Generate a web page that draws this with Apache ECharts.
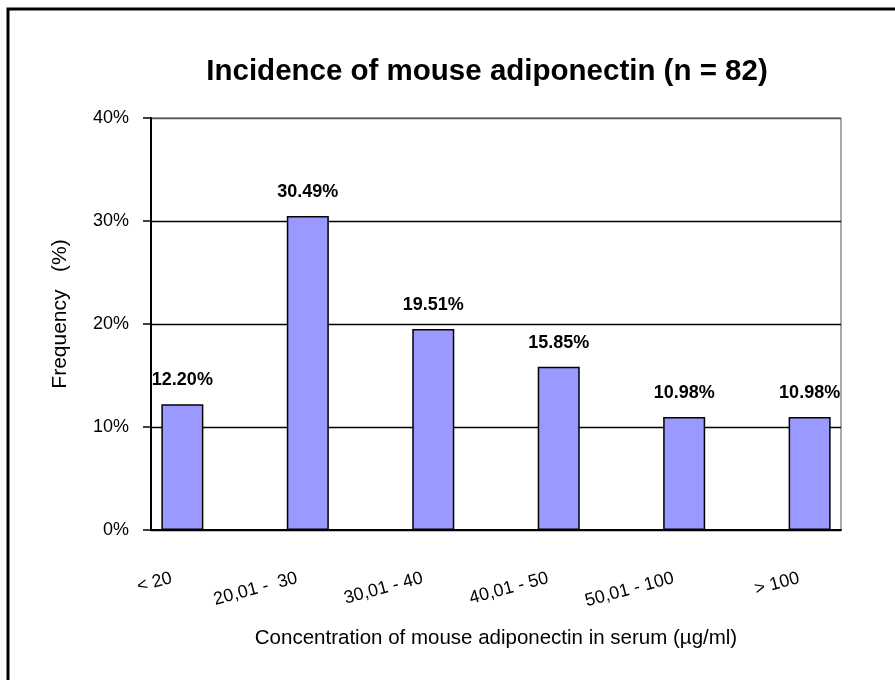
<!DOCTYPE html>
<html>
<head>
<meta charset="utf-8">
<script src="https://cdn.jsdelivr.net/npm/echarts@6/dist/echarts.min.js"></script>
<style>
  html, body { margin: 0; padding: 0; background: #fff; }
  #chart { width: 895px; height: 680px; }
</style>
</head>
<body>
<div id="chart"></div>
<script>
// concentration ranges (ug/ml) and their frequency (%)
const rangeLabels = ['< 20', '20,01 -  30', '30,01 - 40', '40,01 - 50', '50,01 - 100', '> 100'];
const frequencies = [12.20, 30.49, 19.51, 15.85, 10.98, 10.98];
const yTicks = [0, 10, 20, 30, 40];

// Excel-style layout: an empty slot between every bar
const categories = [];
const values = [];
rangeLabels.forEach((label, i) => {
    if (i > 0) {
        categories.push('');
        values.push(null);
    }
    categories.push(label);
    values.push(frequencies[i]);
});

const chart = echarts.init(document.getElementById('chart'));

chart.setOption({
    animation: false,
    textStyle: {
        fontFamily: 'Liberation Sans, Arial, sans-serif'
    },
    title: {
        text: 'Incidence of mouse adiponectin (n = 82)',
        left: 482,
        top: 52,
        textAlign: 'center',
        textStyle: {
            fontWeight: 'bold',
            fontSize: 29.5,
            color: '#000'
        }
    },
    graphic: [{
        type: 'rect',
        shape: { x: 8, y: 9, width: 1000, height: 1000 },
        style: { fill: 'none', stroke: '#000', lineWidth: 3 }
    }],
    grid: {
        left: 151,
        right: 54,
        top: 118,
        bottom: 150,
        show: true,
        borderColor: '#555',
        borderWidth: 1
    },
    xAxis: {
        type: 'category',
        data: categories,
        name: 'Concentration of mouse adiponectin in serum (\u00b5g/ml)',
        nameLocation: 'middle',
        nameGap: 98,
        nameTextStyle: {
            fontSize: 20.5,
            color: '#000'
        },
        axisLine: {
            lineStyle: { color: '#000', width: 2 }
        },
        axisTick: {
            interval: 0,
            length: 8,
            lineStyle: { color: '#000', width: 1.5 }
        },
        axisLabel: {
            interval: 0,
            rotate: 15,
            margin: 45,
            padding: [0, 11, 0, 0],
            fontSize: 18,
            color: '#000'
        }
    },
    yAxis: {
        type: 'value',
        min: yTicks[0],
        max: yTicks[yTicks.length - 1],
        interval: 10,
        name: 'Frequency   (%)',
        nameLocation: 'middle',
        nameGap: 80,
        nameTextStyle: {
            fontSize: 21,
            color: '#000',
            padding: [0, 0, 0, 20]
        },
        axisLine: {
            show: true,
            lineStyle: { color: '#000', width: 2 }
        },
        axisTick: {
            show: true,
            length: 8,
            lineStyle: { color: '#000', width: 1.5 }
        },
        axisLabel: {
            formatter: '{value}%',
            margin: 22,
            fontSize: 18,
            color: '#000'
        },
        splitLine: {
            lineStyle: {
                color: ['#000', '#000', '#000', '#000', '#555'],
                width: 1.3
            }
        }
    },
    series: [{
        type: 'bar',
        data: values,
        barWidth: '67%',
        itemStyle: {
            color: '#9999ff',
            borderColor: '#000',
            borderWidth: 1.5
        },
        label: {
            show: true,
            position: 'top',
            distance: 15,
            formatter: p => p.value.toFixed(2) + '%',
            fontWeight: 'bold',
            fontSize: 18,
            color: '#000'
        }
    }]
});
</script>
</body>
</html>
